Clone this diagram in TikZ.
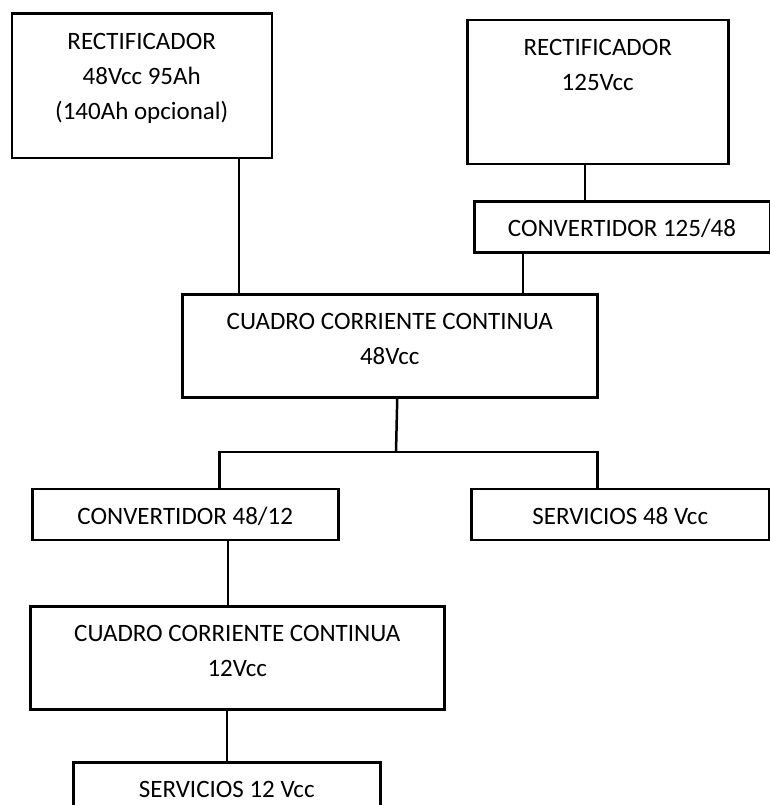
\documentclass[tikz,border=0pt]{standalone}
\usepackage{fontspec}
\setmainfont{Carlito}
\usepackage{tikz}
\newcommand{\boxtext}[1]{\begin{tabular}[t]{@{}c@{}}#1\end{tabular}}

\begin{document}
\begin{tikzpicture}[x=1pt,y=-1pt,
    box/.style 2 args={draw, line width=2.5pt, inner sep=0pt, anchor=north west,
        font=\fontsize{25}{35}\selectfont, text height=35.5pt,
        minimum width=#1, text depth=#2},
    wire/.style={line width=2.5pt},
    thinwire/.style={line width=1.7pt}]
    \useasboundingbox (0,0) rectangle (770,805);
    \clip (0,0) rectangle (770,805);
    \node[box={260pt}{109pt}] (rect48) at (10.5,12.5) {\boxtext{RECTIFICADOR\\48Vcc 95Ah\\(140Ah opcional)}};
    \node[box={261pt}{108.5pt}] (rect125) at (466,19) {\boxtext{RECTIFICADOR\\125Vcc}};
    \node[box={295.5pt}{15.5pt}] (conv125) at (473,200) {\boxtext{CONVERTIDOR 125/48}};
    \node[box={415pt}{67.5pt}] (cc48) at (181,293) {\boxtext{CUADRO CORRIENTE CONTINUA\\48Vcc}};
    \node[box={306pt}{15.5pt}] (conv12) at (31,487.5) {\boxtext{CONVERTIDOR 48/12}};
    \node[box={298pt}{15.5pt}] (serv48) at (470,487.5) {\boxtext{SERVICIOS 48 Vcc}};
    \node[box={414pt}{67.5pt}] (cc12) at (29,605) {\boxtext{CUADRO CORRIENTE CONTINUA\\12Vcc}};
    \node[box={307pt}{25pt}] (serv12) at (72,761) {\boxtext{SERVICIOS 12 Vcc}};
    \coordinate (split) at (396,452);
    \draw[wire] ([xshift=97.25pt]rect48.south) -- ([xshift=97.25pt]rect48.south |- cc48.north);
    \draw[thinwire] ([xshift=-12.5pt]rect125.south) -- ([xshift=-12.5pt]rect125.south |- conv125.north);
    \draw[thinwire] ([xshift=-98.75pt]conv125.south) -- ([xshift=-98.75pt]conv125.south |- cc48.north);
    \draw[wire] ([xshift=7.5pt]cc48.south) -- (split);
    \draw[wire] ([xshift=34pt]conv12.north) |- (split) -| ([xshift=-23pt]serv48.north);
    \draw[thinwire] ([xshift=43pt]conv12.south) -- ([xshift=43pt]conv12.south |- cc12.north);
    \draw[thinwire] ([xshift=-10pt]cc12.south) -- ([xshift=-10pt]cc12.south |- serv12.north);
\end{tikzpicture}
\end{document}
